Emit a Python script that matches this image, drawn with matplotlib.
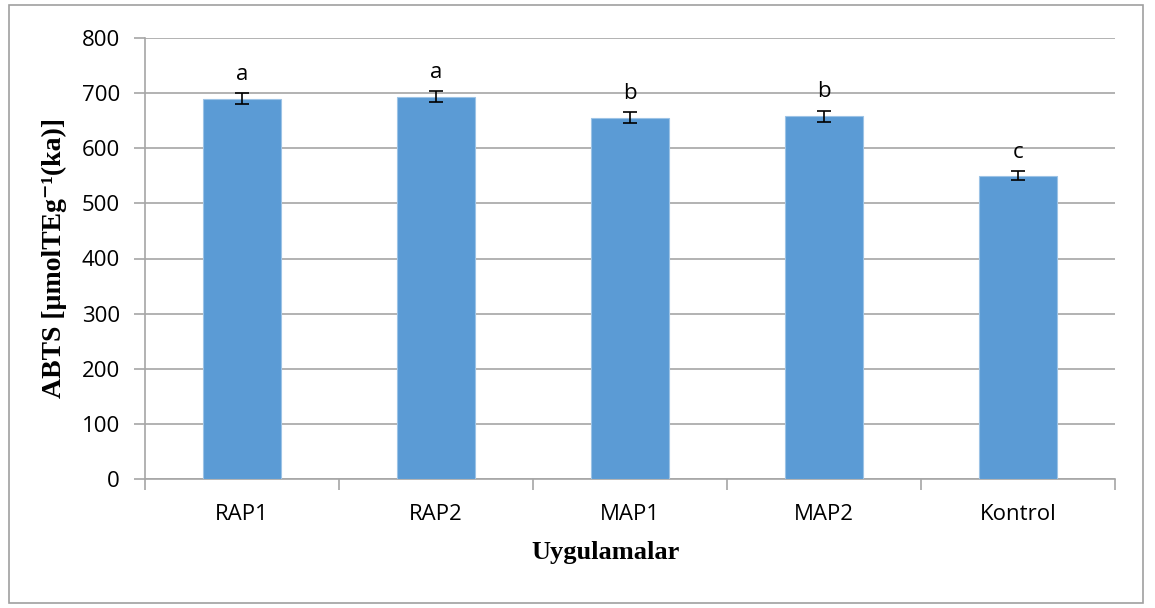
import matplotlib
matplotlib.use("Agg")
import matplotlib.pyplot as plt
from matplotlib.patches import Rectangle
from matplotlib.ticker import FixedLocator

categories = ["RAP1", "RAP2", "MAP1", "MAP2", "Kontrol"]
values = [690, 693, 655, 658, 550]
errors = [10, 10, 10, 10, 8]
letters = ["a", "a", "b", "b", "c"]

W, H = 1155, 608
fig = plt.figure(figsize=(W / 100, H / 100), dpi=100)
ax = fig.add_axes([145 / W, 1 - 479 / H, (1115 - 145) / W, (479 - 38) / H])

grid_c = "#a6a6a6"
x = list(range(len(categories)))
ax.bar(x, values, width=0.4, color="#5b9bd5", edgecolor="#9cc3e6", linewidth=0.8, zorder=3)
ax.errorbar(x, values, yerr=errors, fmt="none", ecolor="black", elinewidth=1.2,
            capsize=5, capthick=1.2, zorder=4)
for xi, v, e, l in zip(x, values, errors, letters):
    ax.annotate(l, (xi, v + e), xytext=(0, 6), textcoords="offset points",
                ha="center", va="bottom", fontsize=16, family="Open Sans")

ax.set_xlim(-0.5, len(categories) - 0.5)
ax.set_ylim(0, 800)
ax.set_yticks(range(0, 801, 100))
ax.yaxis.grid(True, color=grid_c, linewidth=1.2, zorder=0)
ax.set_axisbelow(True)
ax.set_xticks(x)
ax.set_xticklabels(categories)
ax.xaxis.set_minor_locator(FixedLocator([i - 0.5 for i in range(len(categories) + 1)]))
ax.tick_params(axis="x", which="major", length=0, pad=18)
ax.tick_params(axis="x", which="minor", length=8, color=grid_c, width=1.2)
ax.tick_params(axis="y", length=8, color=grid_c, width=1.2, pad=10)
for lab in ax.get_xticklabels() + ax.get_yticklabels():
    lab.set_fontsize(16)
    lab.set_family("Open Sans")
for s in ["top", "right"]:
    ax.spines[s].set_visible(False)
for s in ["left", "bottom"]:
    ax.spines[s].set_color(grid_c)
    ax.spines[s].set_linewidth(1.2)

ax.set_ylabel("ABTS [µmolTEg\u207b\u00b9(ka)]", fontsize=20, fontweight="bold",
              family=["Liberation Serif", "DejaVu Serif"])
ax.yaxis.set_label_coords(-0.080, 0.5)
ax.set_xlabel("Uygulamalar", fontsize=19, fontweight="bold",
              family="Liberation Serif")
ax.xaxis.set_label_coords((606 - 145) / (1115 - 145), -(552 - 479) / (479 - 38))
ax.xaxis.label.set_va("center")

fig.patches.append(Rectangle((9 / W, 1 - 603 / H), (1143 - 9) / W, (603 - 5) / H,
                             transform=fig.transFigure, fill=False,
                             edgecolor="#a0a0a0", linewidth=1.2))
fig.savefig("out.png", dpi=100)
